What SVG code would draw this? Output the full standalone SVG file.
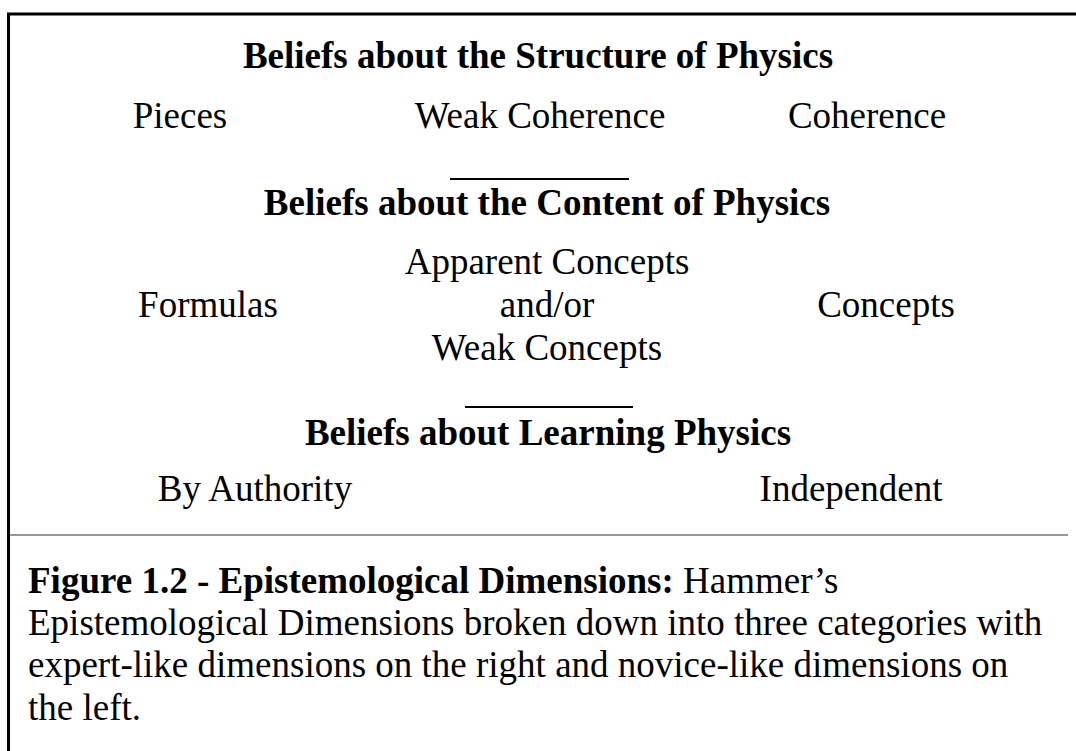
<svg xmlns="http://www.w3.org/2000/svg" width="1076" height="751" viewBox="0 0 1076 751">
  <style>
    text { font-family: "Liberation Serif", "Times New Roman", serif; fill: #000; font-size: 37px; }
    .head { font-weight: bold; text-anchor: middle; }
    .item { text-anchor: middle; }
    .rule { stroke: #000; stroke-width: 2; }
  </style>
  <rect width="1076" height="751" fill="#fff"/>
  <!-- frame: top and left edges -->
  <g id="frame" fill="none" stroke="#000" stroke-width="3">
    <polyline points="8.5,751 8.5,14 1076,14"/>
  </g>

  <g id="structure">
    <text class="head" x="538" y="68">Beliefs about the Structure of Physics</text>
    <text class="item" x="180" y="128">Pieces</text>
    <text class="item" x="540" y="128">Weak Coherence</text>
    <text class="item" x="867" y="128">Coherence</text>
  </g>
  <line class="rule" x1="450" y1="179" x2="629" y2="179"/>

  <g id="content">
    <text class="head" x="547" y="215">Beliefs about the Content of Physics</text>
    <text class="item" x="547" y="274">Apparent Concepts</text>
    <text class="item" x="208" y="317">Formulas</text>
    <text class="item" x="547" y="317">and/or</text>
    <text class="item" x="886" y="317">Concepts</text>
    <text class="item" x="547" y="360">Weak Concepts</text>
  </g>
  <line class="rule" x1="465" y1="407" x2="633" y2="407"/>

  <g id="learning">
    <text class="head" x="548" y="445">Beliefs about Learning Physics</text>
    <text class="item" x="255" y="501">By Authority</text>
    <text class="item" x="851" y="501">Independent</text>
  </g>

  <line x1="10" y1="535" x2="1068" y2="535" stroke="#999" stroke-width="2"/>

  <g id="caption">
    <text x="28" y="593"><tspan font-weight="bold">Figure 1.2 - Epistemological Dimensions:</tspan> Hammer’s</text>
    <text x="28" y="635">Epistemological Dimensions broken down into three categories with</text>
    <text x="28" y="677">expert-like dimensions on the right and novice-like dimensions on</text>
    <text x="28" y="720">the left.</text>
  </g>
</svg>
